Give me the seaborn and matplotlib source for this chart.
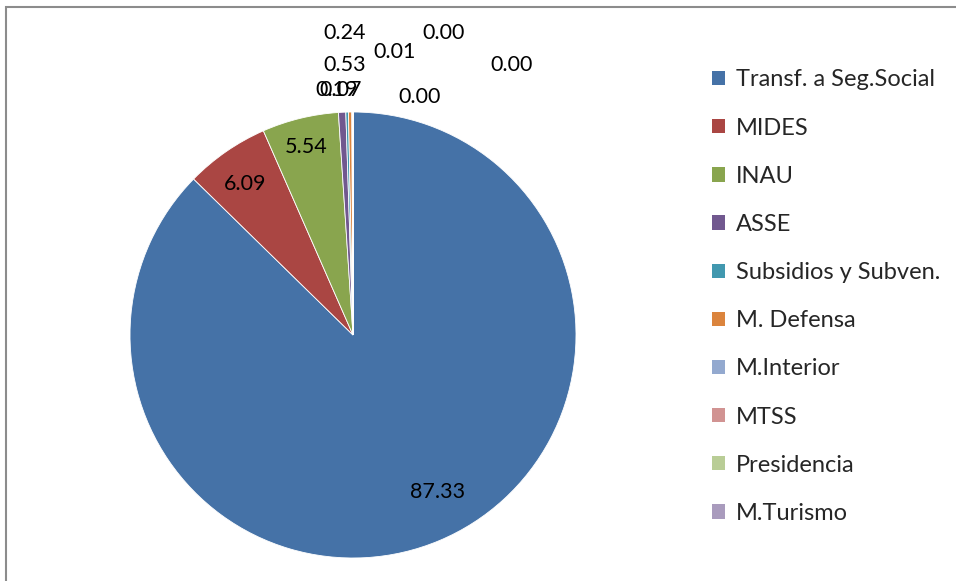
import matplotlib
matplotlib.use("Agg")
import matplotlib.pyplot as plt
import matplotlib.patches as mpatches
import seaborn as sns
import numpy as np

sns.set_theme(style="white")
plt.rcParams['font.family'] = ['Lato', 'DejaVu Sans']

categories = ["Transf. a Seg.Social", "MIDES", "INAU", "ASSE", "Subsidios y Subven.",
              "M. Defensa", "M.Interior", "MTSS", "Presidencia", "M.Turismo", "Otros"]
values = [87.33, 6.09, 5.54, 0.53, 0.19, 0.24, 0.07, 0.01, 0.001, 0.001, 0.001]
value_labels = ["87.33", "6.09", "5.54", "0.53", "0.19", "0.24", "0.07", "0.01", "0.00", "0.00", "0.00"]
colors = ["#4572A7", "#AA4643", "#89A54E", "#71588F", "#4198AF", "#DB843D",
          "#93A9CF", "#D19392", "#B9CD96", "#A99BBD", "#2C4D75"]
# label positions (in units of pie radius) as seen in the reference
label_pos = {0: (0.377, -0.704), 1: (-0.484, 0.677), 2: (-0.211, 0.843),
             3: (-0.036, 1.211), 4: (-0.075, 1.099), 5: (-0.036, 1.354), 6: (-0.055, 1.099),
             7: (0.188, 1.269), 8: (0.404, 1.354), 9: (0.713, 1.211), 10: (0.300, 1.067)}

fig = plt.figure(figsize=(9.56, 5.81), dpi=100)
# chart area border
fig.patches.append(mpatches.Rectangle((6/956, -0.1), 1.2, (581-7)/581 + 0.1, transform=fig.transFigure,
                                      fill=False, edgecolor="#8c8c8c", linewidth=1.5))

R_px = 223
cx, cy = 353, 335
ax = fig.add_axes([(cx - R_px)/956, (581 - cy - R_px)/581, 2*R_px/956, 2*R_px/581])
wedges, _ = ax.pie(values, colors=colors, startangle=90, counterclock=False,
                   wedgeprops=dict(linewidth=0.6, edgecolor="white"))
ax.set_xlim(-1, 1)
ax.set_ylim(-1, 1)
ax.set_aspect("auto")

for i, w in enumerate(wedges):
    if i in label_pos:
        x, y = label_pos[i]
    else:
        ang = np.deg2rad((w.theta1 + w.theta2) / 2)
        x, y = 0.8*np.cos(ang), 0.8*np.sin(ang)
    ax.text(x, y, value_labels[i], ha="center", va="center", fontsize=15.5, color="black", clip_on=False)

handles = [mpatches.Patch(facecolor=colors[i], edgecolor="none") for i in range(10)]
fig.legend(handles, categories[:10], loc="upper left", bbox_to_anchor=(703/956, 1 - 60/581),
           frameon=False, fontsize=17, handlelength=0.55, handleheight=0.55, handletextpad=0.45,
           labelspacing=1.15, borderaxespad=0)

fig.savefig("out.png", dpi=100)
